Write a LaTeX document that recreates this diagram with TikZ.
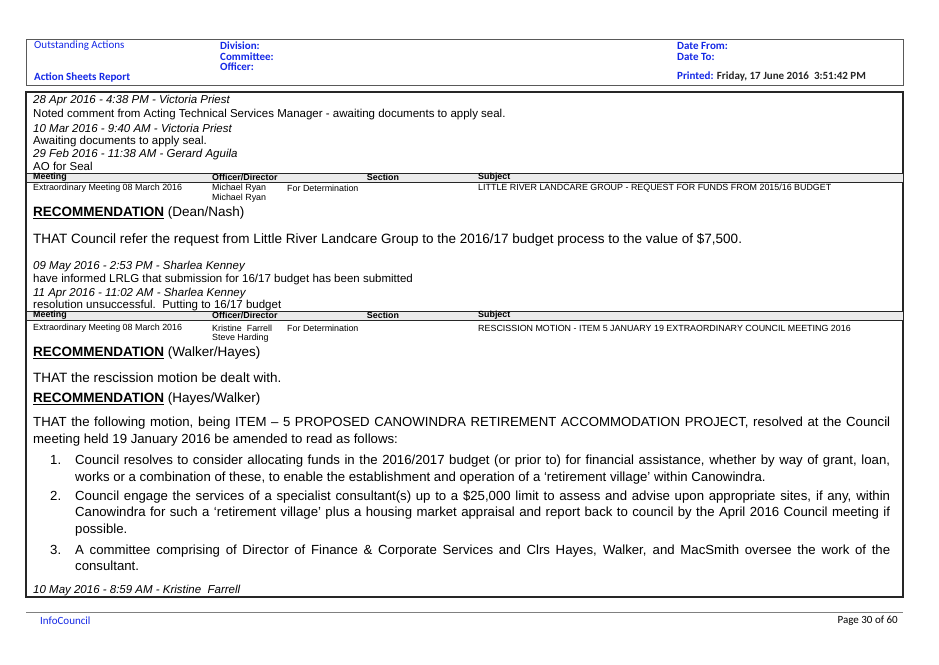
\documentclass[tikz,border=0pt]{standalone}
\usepackage{fontspec}
\setmainfont{Liberation Sans}
\newfontfamily\carlfont{Carlito}
\definecolor{hblue}{RGB}{20,40,230}
\definecolor{barg}{RGB}{235,235,235}
\hyphenpenalty=10000
\exhyphenpenalty=10000
\begin{document}
\begin{tikzpicture}[x=1pt,y=-1pt,
 every node/.style={inner sep=0pt,anchor=west},
 hd/.style={font=\carlfont\fontsize{11}{12}\selectfont\bfseries,text=hblue},
 sm/.style={font=\fontsize{11.5}{13}\selectfont},
 it/.style={font=\fontsize{11.5}{13}\selectfont\itshape},
 tb/.style={font=\fontsize{8.9}{10}\selectfont},
 tbh/.style={font=\fontsize{8.9}{10}\selectfont\bfseries},
 rec/.style={font=\fontsize{13.5}{16}\selectfont},
 para/.style={font=\fontsize{13.2}{16.5}\selectfont,anchor=north west,align=justify},
 num/.style={font=\fontsize{13.2}{16.5}\selectfont,anchor=north west,align=left,text width=20pt}]
\useasboundingbox[fill=white] (0,0) rectangle (939,664);
% header box
\draw[gray!70!black,line width=1pt] (26,39) rectangle (903,85);
\node[hd,font=\carlfont\fontsize{11}{12}\selectfont] (oa) at (34,46) {Outstanding Actions};
\node[hd] (as) at (34,77) {Action Sheets Report};
\node[hd] (dv) at (220,46) {Division:};
\node[hd] (cm) at (220,57) {Committee:};
\node[hd] (of) at (220,67) {Officer:};
\node[hd] (df) at (677,46) {Date From:};
\node[hd] (dt) at (677,57) {Date To:};
\node[hd] (pr) at (677,77) {Printed: \textcolor{black!85}{Friday, 17 June 2016\ \ 3:51:42 PM}};
% main box
\draw[black!85,line width=1.5pt] (26,92) rectangle (903,597);
% table header bars
\draw[black!85,fill=barg,line width=1pt] (26,173) rectangle (903,182);
\draw[black!85,fill=barg,line width=1pt] (26,311) rectangle (903,320);
\node[it] (a1) at (33,101) {28 Apr 2016 - 4:38 PM - Victoria Priest};
\node[sm] (a2) at (33,115) {Noted comment from Acting Technical Services Manager - awaiting documents to apply seal.};
\node[it] (a3) at (33,128) {10 Mar 2016 - 9:40 AM - Victoria Priest};
\node[sm] (a4) at (33,141.5) {Awaiting documents to apply seal.};
\node[it] (a5) at (33,155) {29 Feb 2016 - 11:38 AM - Gerard Aguila};
\node[sm] (a6) at (33,166) {AO for Seal};
\node[tbh] (h1) at (33,177.5) {Meeting};
\node[tbh] (h2) at (212,177.5) {Officer/Director};
\node[tbh,anchor=center] (h3) at (383,177.5) {Section};
\node[tbh] (h4) at (478,177.5) {Subject};
\node[tb] (r1) at (33,188) {Extraordinary Meeting 08 March 2016};
\node[tb] (r2) at (212,188) {Michael Ryan};
\node[tb] (r2b) at (212,198) {Michael Ryan};
\node[tb] (r3) at (287,188) {For Determination};
\node[tb] (r4) at (478,188) {LITTLE RIVER LANDCARE GROUP - REQUEST FOR FUNDS FROM 2015/16 BUDGET};
\node[rec] (rc1) at (33,213) {\textbf{\underline{RECOMMENDATION}} (Dean/Nash)};
\node[rec] (t1) at (33,240) {THAT Council refer the request from Little River Landcare Group to the 2016/17 budget process to the value of \$7,500.};
\node[it] (b1) at (33,267) {09 May 2016 - 2:53 PM - Sharlea Kenney};
\node[sm] (b2) at (33,280) {have informed LRLG that submission for 16/17 budget has been submitted};
\node[it] (b3) at (33,294) {11 Apr 2016 - 11:02 AM - Sharlea Kenney};
\node[sm] (b4) at (33,305.5) {resolution unsuccessful.\ \ Putting to 16/17 budget};
\node[tbh] (g1) at (33,315.5) {Meeting};
\node[tbh] (g2) at (212,315.5) {Officer/Director};
\node[tbh,anchor=center] (g3) at (383,315.5) {Section};
\node[tbh] (g4) at (478,315.5) {Subject};
\node[tb] (s1) at (33,328) {Extraordinary Meeting 08 March 2016};
\node[tb] (s2) at (212,328) {Kristine\ \ Farrell};
\node[tb] (s2b) at (212,338) {Steve Harding};
\node[tb] (s3) at (287,328) {For Determination};
\node[tb] (s4) at (478,328) {RESCISSION MOTION - ITEM 5 JANUARY 19 EXTRAORDINARY COUNCIL MEETING 2016};
\node[rec] (rc2) at (33,353) {\textbf{\underline{RECOMMENDATION}} (Walker/Hayes)};
\node[rec] (t2) at (33,378) {THAT the rescission motion be dealt with.};
\node[rec] (rc3) at (33,399) {\textbf{\underline{RECOMMENDATION}} (Hayes/Walker)};
\node[para,text width=857pt] (p0) at (33,417) {THAT the following motion, being ITEM -- 5 PROPOSED CANOWINDRA RETIREMENT ACCOMMODATION PROJECT, resolved at the Council meeting held 19 January 2016 be amended to read as follows:};
\node[num] (n1) at (50,453) {\strut 1.};
\node[para,text width=815pt] (p1) at (75,453) {\strut Council resolves to consider allocating funds in the 2016/2017 budget (or prior to) for financial assistance, whether by way of grant, loan, works or a combination of these, to enable the establishment and operation of a ‘retirement village’ within Canowindra.};
\node[num] (n2) at (50,488.5) {\strut 2.};
\node[para,text width=815pt] (p2) at (75,488.5) {\strut Council engage the services of a specialist consultant(s) up to a \$25,000 limit to assess and advise upon appropriate sites, if any, within Canowindra for such a ‘retirement village’ plus a housing market appraisal and report back to council by the April 2016 Council meeting if possible.};
\node[num] (n3) at (50,542.5) {\strut 3.};
\node[para,text width=815pt] (p3) at (75,542.5) {\strut A committee comprising of Director of Finance \& Corporate Services and Clrs Hayes, Walker, and MacSmith oversee the work of the consultant.};
\node[it] (c1) at (33,591) {10 May 2016 - 8:59 AM - Kristine\ \ Farrell};
% footer
\draw[gray,line width=0.8pt] (26,612) -- (903,612);
\node[font=\carlfont\fontsize{11}{12}\selectfont,text=hblue] (ic) at (40,621) {InfoCouncil};
\node[font=\carlfont\fontsize{11}{12}\selectfont,anchor=east] (pg) at (898,621) {Page 30 of 60};
\end{tikzpicture}
\end{document}
